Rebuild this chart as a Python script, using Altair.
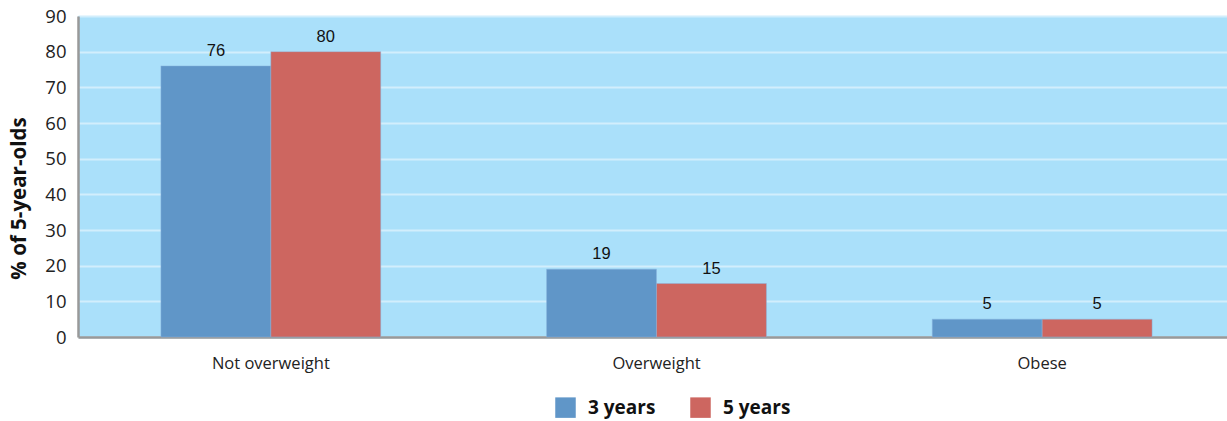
import altair as alt
import pandas as pd

categories = ["Not overweight", "Overweight", "Obese"]
ages = ["3 years", "5 years"]
values_3y = [76, 19, 5]
values_5y = [80, 15, 5]
y_ticks = [0, 10, 20, 30, 40, 50, 60, 70, 80, 90]

rows = []
for cat, a, b in zip(categories, values_3y, values_5y):
    rows.append({"category": cat, "age": ages[0], "pct": a})
    rows.append({"category": cat, "age": ages[1], "pct": b})
df = pd.DataFrame(rows)

x_enc = alt.X(
    "category:N",
    sort=categories,
    scale=alt.Scale(paddingInner=0.43, paddingOuter=0.215, range=[0, 1157]),
    axis=alt.Axis(
        title=None, labelAngle=0, ticks=False, labelPadding=18,
        labelFont="Open Sans", labelFontSize=16.5, labelColor="#222",
        domainColor="#999999", domainWidth=2.5,
    ),
)
offset_enc = alt.XOffset("age:N", sort=ages, scale=alt.Scale(paddingInner=0, paddingOuter=0))
y_enc = alt.Y(
    "pct:Q",
    scale=alt.Scale(domain=[0, 90], nice=False),
    axis=alt.Axis(
        title="% of 5-year-olds", values=y_ticks, labelOverlap=False,
        ticks=False, labelPadding=12, labelFont="Open Sans", labelFontSize=18.5,
        labelColor="#222", titleFont="Open Sans", titleFontSize=20.5,
        titleFontWeight="bold", titleColor="#111", titlePadding=15,
        titleY=182, titleAnchor="middle",
        domainColor="#999999", domainWidth=2.5,
        gridColor="#d2eefc", gridWidth=2,
    ),
)
color_enc = alt.Color(
    "age:N",
    sort=ages,
    scale=alt.Scale(domain=ages, range=["#6096c8", "#cd6660"]),
    legend=alt.Legend(
        title=None, orient="none", legendX=477, legendY=381, direction="horizontal",
        symbolType="square", symbolSize=420, symbolStrokeWidth=0, symbolOpacity=1,
        labelFont="Open Sans", labelFontSize=19, labelFontWeight="bold",
        labelColor="#111", columnPadding=34, labelOffset=12,
    ),
)

base = alt.Chart(df).encode(x=x_enc, xOffset=offset_enc, y=y_enc)

bars = base.mark_bar(stroke="#8ab4de", strokeWidth=0.6, strokeOpacity=0.8).encode(
    color=color_enc
)
labels = base.mark_text(
    dy=-15, font="Liberation Sans", fontSize=16.5, color="#111"
).encode(text="pct:Q")

chart = (
    alt.layer(bars, labels)
    .properties(
        width=1149, height=321,
        autosize=alt.AutoSizeParams(type="none"),
        padding={"left": 78, "top": 16, "right": 0, "bottom": 84},
        background="white",
    )
    .configure_view(fill="#aae0fa", stroke=None)
)

chart.save("out.html", embed_options={"renderer": "svg", "actions": False})
